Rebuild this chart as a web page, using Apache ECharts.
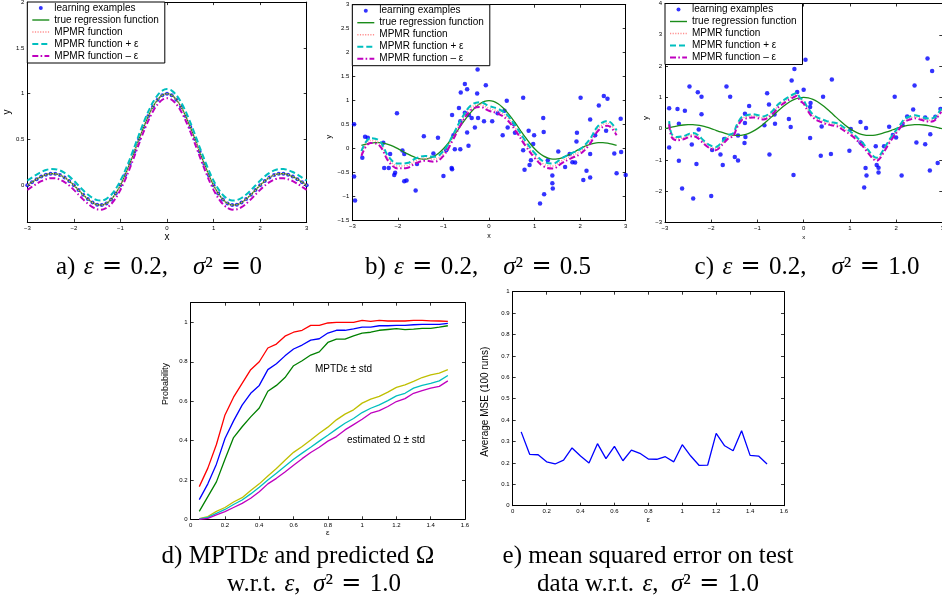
<!DOCTYPE html>
<html><head><meta charset="utf-8">
<script src="https://cdn.jsdelivr.net/npm/echarts@6/dist/echarts.min.js"></script>
<style>html,body{margin:0;padding:0;background:#fff}#c{width:942px;height:607px}</style>
</head><body><div id="c"></div>
<script>
// ---------- Panel a (sigma^2 = 0) ----------
const xA = [-3,-2.9,-2.8,-2.7,-2.6,-2.5,-2.4,-2.3,-2.2,-2.1,-2,-1.9,-1.8,-1.7,-1.6,-1.5,-1.4,-1.3,-1.2,-1.1,-1,-0.9,-0.8,-0.7,-0.6,-0.5,-0.4,-0.3,-0.2,-0.1,0,0.1,0.2,0.3,0.4,0.5,0.6,0.7,0.8,0.9,1,1.1,1.2,1.3,1.4,1.5,1.6,1.7,1.8,1.9,2,2.1,2.2,2.3,2.4,2.5,2.6,2.7,2.8,2.9,3];
const trueFn = [0,0.034,0.067,0.095,0.116,0.127,0.126,0.112,0.085,0.047,0,-0.052,-0.104,-0.151,-0.189,-0.212,-0.216,-0.198,-0.156,-0.089,0,0.109,0.234,0.368,0.505,0.637,0.757,0.858,0.935,0.984,1,0.984,0.935,0.858,0.757,0.637,0.505,0.368,0.234,0.109,0,-0.089,-0.156,-0.198,-0.216,-0.212,-0.189,-0.151,-0.104,-0.052,0,0.047,0.085,0.112,0.126,0.127,0.116,0.095,0.067,0.034,0];
const mpmrA = [0,0.034,0.067,0.095,0.116,0.127,0.126,0.112,0.085,0.047,0,-0.052,-0.104,-0.151,-0.189,-0.212,-0.216,-0.198,-0.156,-0.089,0,0.109,0.234,0.368,0.505,0.637,0.757,0.858,0.935,0.984,1,0.984,0.935,0.858,0.757,0.637,0.505,0.368,0.234,0.109,0,-0.089,-0.156,-0.198,-0.216,-0.212,-0.189,-0.151,-0.104,-0.052,0,0.047,0.085,0.112,0.126,0.127,0.116,0.095,0.067,0.034,0];
const mpmrPlusA = [0.05,0.084,0.117,0.145,0.166,0.177,0.176,0.162,0.135,0.097,0.05,-0.002,-0.054,-0.101,-0.139,-0.162,-0.166,-0.148,-0.106,-0.039,0.05,0.159,0.284,0.418,0.555,0.687,0.807,0.908,0.985,1.034,1.05,1.034,0.985,0.908,0.807,0.687,0.555,0.418,0.284,0.159,0.05,-0.039,-0.106,-0.148,-0.166,-0.162,-0.139,-0.101,-0.054,-0.002,0.05,0.097,0.135,0.162,0.176,0.177,0.166,0.145,0.117,0.084,0.05];
const mpmrMinusA = [-0.05,-0.016,0.017,0.045,0.066,0.077,0.076,0.062,0.035,-0.003,-0.05,-0.102,-0.154,-0.201,-0.239,-0.262,-0.266,-0.248,-0.206,-0.139,-0.05,0.059,0.184,0.318,0.455,0.587,0.707,0.808,0.885,0.934,0.95,0.934,0.885,0.808,0.707,0.587,0.455,0.318,0.184,0.059,-0.05,-0.139,-0.206,-0.248,-0.266,-0.262,-0.239,-0.201,-0.154,-0.102,-0.05,-0.003,0.035,0.062,0.076,0.077,0.066,0.045,0.017,-0.016,-0.05];

// ---------- Panel b (sigma^2 = 0.5) ----------
const ptsBx = [-2.96,-2.96,-2.94,-2.72,-2.66,-2.78,-2.32,-2.30,-2.20,-2.17,-2.08,-2.06,-2.02,-1.90,-1.86,-1.86,-1.81,-1.61,-1.58,-1.43,-1.12,-1.22,-1.00,-0.94,-0.82,-0.81,-0.81,-0.78,-0.75,-0.66,-0.63,-0.62,-0.63,-0.53,-0.53,-0.48,-0.48,-0.45,-0.44,-0.38,-0.31,-0.25,-0.26,-0.24,-0.11,-0.07,0.07,0.19,0.30,0.34,0.39,0.41,0.55,0.57,0.75,0.75,0.78,0.87,0.89,0.92,0.99,0.97,1.12,1.19,1.20,1.21,1.29,1.39,1.39,1.40,1.52,1.67,1.77,1.83,1.89,1.92,1.93,2.01,2.07,2.14,2.22,2.22,2.22,2.33,2.41,2.52,2.60,2.57,2.89,2.75,2.80,2.90,3.00];
const ptsBy = [0.51,-0.58,-1.08,0.25,0.23,-0.19,0.125,-0.40,-0.40,-0.11,-0.55,-0.50,0.74,-0.04,-0.11,-0.68,-0.66,-0.87,-0.32,0.26,0.23,-0.10,-0.57,-0.03,-0.40,-0.43,0.70,0.28,-0.01,0.85,-0.01,1.17,0.57,1.35,0.75,1.24,0.34,0.06,0.70,0.64,0.44,1.65,1.15,0.64,0.57,1.32,0.57,0.74,0.28,0.79,1.00,0.44,0.51,0.33,-0.03,1.06,-0.44,0.375,-0.34,-0.24,0.28,0.10,-1.14,0.64,0.35,-0.95,-0.24,-0.56,-0.72,-0.83,-0.06,-0.38,-0.11,-0.28,-0.29,0.15,0.33,1.06,-0.65,-0.46,-0.11,0.61,-0.60,0.28,0.90,1.10,1.04,0.375,0.625,-0.10,-0.51,-0.07,-0.55];
const xB = [-2.8,-2.6,-2.4,-2.2,-2.0,-1.8,-1.6,-1.4,-1.2,-1.0,-0.8,-0.6,-0.4,-0.2,0,0.2,0.4,0.6,0.8,1.0,1.2,1.4,1.6,1.8,2.0,2.2,2.4,2.6,2.8];
const mpmrB = [-0.10,0.17,0.11,-0.22,-0.36,-0.35,-0.25,-0.20,-0.22,-0.10,0.22,0.58,0.85,0.92,0.84,0.78,0.65,0.40,0.11,-0.14,-0.32,-0.36,-0.25,-0.15,-0.06,0.13,0.43,0.53,0.33];
const mpmrPlusB = [-0.05,0.22,0.16,-0.17,-0.31,-0.30,-0.20,-0.15,-0.17,-0.05,0.27,0.63,0.90,0.97,0.89,0.83,0.70,0.45,0.16,-0.09,-0.27,-0.31,-0.20,-0.10,-0.01,0.18,0.48,0.58,0.38];
const mpmrMinusB = [-0.15,0.12,0.06,-0.27,-0.41,-0.40,-0.30,-0.25,-0.27,-0.15,0.17,0.53,0.80,0.87,0.79,0.73,0.60,0.35,0.06,-0.19,-0.37,-0.41,-0.30,-0.20,-0.11,0.08,0.38,0.48,0.28];

// ---------- Panel c (sigma^2 = 1.0) ----------
const ptsCx = [-2.91,-2.91,-2.73,-2.70,-2.70,-2.63,-2.57,-2.47,-2.42,-2.39,-2.32,-2.29,-2.27,-2.21,-2.21,-1.98,-2.00,-1.80,-1.75,-1.72,-1.67,-1.59,-1.49,-1.42,-1.42,-1.27,-1.28,-1.26,-1.27,-1.18,-0.85,-0.79,-0.75,-0.74,-0.62,-0.63,-0.32,-0.28,-0.26,-0.22,-0.20,-0.14,0.00,0.04,0.14,0.15,0.14,0.37,0.39,0.42,0.59,0.61,0.99,1.02,1.23,1.23,1.26,1.31,1.34,1.36,1.35,1.56,1.58,1.62,1.62,1.74,1.85,1.93,1.97,2.00,2.12,2.14,2.24,2.37,2.40,2.44,2.63,2.63,2.68,2.73,2.74,2.78,2.85,2.90,2.96];
const ptsCy = [0.65,-0.60,0.63,0.16,-1.03,-1.91,0.57,1.35,-0.51,-2.23,-1.13,1.16,-0.03,1.02,0.46,-0.68,-2.15,-0.83,-1.16,-0.33,1.35,1.02,-0.91,-1.02,-0.22,0.18,-0.46,-0.27,0.48,0.72,0.11,1.13,0.77,-0.83,0.16,0.45,0.31,0.05,1.54,-1.48,1.91,1.17,1.24,2.20,0.69,0.82,-0.30,-0.87,0.07,1.02,-0.81,1.57,-0.71,-0.01,0.21,-0.44,-0.48,-1.88,-1.26,-1.50,0.02,-0.56,-1.16,-1.40,-1.25,-0.56,0.06,-0.20,1.02,-0.28,-1.50,0.11,0.39,0.61,1.38,-0.44,0.36,-0.50,2.24,-1.34,-0.18,1.84,0.38,-1.10,0.63];
const xC = [-2.91,-2.86,-2.75,-2.6,-2.47,-2.39,-2.28,-2.17,-2.03,-1.9,-1.77,-1.63,-1.52,-1.45,-1.34,-1.23,-1.09,-0.98,-0.87,-0.76,-0.66,-0.55,-0.44,-0.33,-0.22,-0.15,-0.08,0.0,0.06,0.17,0.28,0.39,0.5,0.6,0.75,0.86,0.97,1.07,1.18,1.29,1.4,1.51,1.58,1.65,1.76,1.87,1.97,2.08,2.19,2.3,2.41,2.52,2.62,2.73,2.84,2.98];
const mpmrC = [0.19,-0.21,-0.32,-0.29,-0.21,-0.19,-0.26,-0.42,-0.58,-0.64,-0.48,-0.26,-0.19,0.06,0.32,0.38,0.41,0.38,0.34,0.41,0.54,0.73,0.85,0.96,1.05,1.09,0.94,0.85,0.69,0.45,0.32,0.25,0.19,0.16,0.11,0.0,-0.10,-0.21,-0.37,-0.53,-0.74,-0.93,-0.98,-0.90,-0.64,-0.37,-0.16,0.06,0.27,0.34,0.38,0.34,0.30,0.27,0.32,0.59];
const mpmrPlusC = [0.24,-0.16,-0.27,-0.24,-0.16,-0.14,-0.21,-0.37,-0.53,-0.59,-0.43,-0.21,-0.14,0.11,0.37,0.43,0.46,0.43,0.39,0.46,0.59,0.78,0.90,1.01,1.10,1.14,0.99,0.90,0.74,0.50,0.37,0.30,0.24,0.21,0.16,0.05,-0.05,-0.16,-0.32,-0.48,-0.69,-0.88,-0.93,-0.85,-0.59,-0.32,-0.11,0.11,0.32,0.39,0.43,0.39,0.35,0.32,0.37,0.64];
const mpmrMinusC = [0.14,-0.26,-0.37,-0.34,-0.26,-0.24,-0.31,-0.47,-0.63,-0.69,-0.53,-0.31,-0.24,0.01,0.27,0.33,0.36,0.33,0.29,0.36,0.49,0.68,0.80,0.91,1.00,1.04,0.89,0.80,0.64,0.40,0.27,0.20,0.14,0.11,0.06,-0.05,-0.15,-0.26,-0.42,-0.58,-0.79,-0.98,-1.03,-0.95,-0.69,-0.42,-0.21,0.01,0.22,0.29,0.33,0.29,0.25,0.22,0.27,0.54];

// ---------- Panels d, e (w.r.t. epsilon) ----------
const epsX = [0.05,0.1,0.15,0.2,0.25,0.3,0.35,0.4,0.45,0.5,0.55,0.6,0.65,0.7,0.75,0.8,0.85,0.9,0.95,1.0,1.05,1.1,1.15,1.2,1.25,1.3,1.35,1.4,1.45,1.5];
const mptdPlusStd = [0.166,0.26,0.38,0.53,0.62,0.69,0.76,0.80,0.87,0.89,0.93,0.95,0.96,0.985,0.985,0.997,1.0,1.0,1.0,1.01,1.005,1.01,1.007,1.007,1.007,1.01,1.01,1.008,1.007,1.005];
const mptdMean = [0.10,0.18,0.28,0.41,0.50,0.58,0.64,0.68,0.76,0.79,0.83,0.865,0.885,0.91,0.917,0.946,0.96,0.96,0.967,0.976,0.976,0.983,0.983,0.985,0.985,0.988,0.99,0.99,0.99,0.995];
const mptdMinusStd = [0.04,0.115,0.19,0.305,0.415,0.47,0.52,0.565,0.65,0.68,0.72,0.78,0.805,0.834,0.85,0.898,0.915,0.915,0.932,0.946,0.95,0.96,0.964,0.968,0.963,0.966,0.97,0.97,0.976,0.983];
const omegaPlusStd = [0.003,0.014,0.04,0.06,0.088,0.11,0.146,0.18,0.22,0.258,0.30,0.34,0.37,0.403,0.437,0.468,0.505,0.534,0.556,0.59,0.61,0.624,0.646,0.67,0.683,0.70,0.72,0.734,0.742,0.76];
const omegaMean = [0.002,0.01,0.03,0.05,0.075,0.098,0.129,0.163,0.20,0.234,0.27,0.305,0.336,0.366,0.397,0.427,0.458,0.488,0.512,0.542,0.564,0.581,0.603,0.627,0.64,0.666,0.68,0.69,0.703,0.73];
const omegaMinusStd = [0,0.005,0.022,0.039,0.06,0.081,0.107,0.14,0.18,0.208,0.24,0.275,0.308,0.339,0.366,0.397,0.42,0.454,0.481,0.508,0.539,0.552,0.573,0.598,0.613,0.64,0.654,0.666,0.675,0.703];
const mseAvg = [0.345,0.24,0.238,0.205,0.195,0.213,0.27,0.232,0.20,0.29,0.22,0.277,0.21,0.26,0.245,0.218,0.217,0.229,0.205,0.285,0.232,0.188,0.19,0.338,0.28,0.257,0.35,0.235,0.232,0.195];

// ---------- tick labels ----------
const ticksX3 = [-3,-2,-1,0,1,2,3];
const ticksYa = [0,0.5,1,1.5,2];
const ticksYb = [-1.5,-1,-0.5,0,0.5,1,1.5,2,2.5,3];
const ticksYc = [-3,-2,-1,0,1,2,3,4];
const ticksEps = [0,0.2,0.4,0.6,0.8,1,1.2,1.4,1.6];
const ticksProb = [0,0.2,0.4,0.6,0.8,1];
const ticksMse = [0,0.1,0.2,0.3,0.4,0.5,0.6,0.7,0.8,0.9,1];

const legendNames = ['learning examples','true regression function','MPMR function','MPMR function + \u03b5','MPMR function \u2013 \u03b5'];

const SANS = '"Liberation Sans", Arial, Helvetica, sans-serif';
const SERIF = '"Liberation Serif", "Times New Roman", serif';
const C = {blue:'#0000ff', green:'#1a8c1a', pink:'#ff8f8f', cyan:'#00bfbf', mag:'#bf00bf', red:'#ff0000', yel:'#bfbf00', dgreen:'#008000'};
const fmt = v => (v < 0 ? '\u2212' + Math.abs(v) : String(v));
const zip = (xs, ys) => xs.map((x, i) => [x, ys[i]]);

const panels = [
  {grid:{left:27.3, top:2.1, width:279.4, height:219.8}, x:[-3,3], y:[-0.4,2], xt:ticksX3, yt:ticksYa, lab:6, xName:'x', xNS:10, xGap:10, yName:'y', yNS:10, yGap:12, yShift:0},
  {grid:{left:352.3, top:4.7, width:273.4, height:216}, x:[-3,3], y:[-1.5,3], xt:ticksX3, yt:ticksYb, lab:6, xName:'x', xNS:7, xGap:11.5, yName:'y', yNS:8, yGap:20, yShift:24},
  {grid:{left:665, top:3.5, width:277.3, height:219}, x:[-3,3], y:[-3,4], xt:ticksX3, yt:ticksYc, lab:6, xName:'x', xNS:6, xGap:11.5, yName:'y', yNS:8, yGap:15, yShift:5},
  {grid:{left:190.7, top:302.7, width:274.3, height:216.6}, x:[0,1.6], y:[0,1.1], xt:ticksEps, yt:ticksProb, lab:6, xName:'\u03b5', xNS:8, xGap:9.5, yName:'Probability', yNS:9, yGap:21, yShift:-27},
  {grid:{left:512.7, top:291.7, width:271.3, height:214}, x:[0,1.6], y:[0,1], xt:ticksEps, yt:ticksMse, lab:6, xName:'\u03b5', xNS:8, xGap:10, yName:'Average MSE (100 runs)', yNS:10, yGap:22.7, yShift:3}
];

const grids = [], xAxes = [], yAxes = [];
panels.forEach((p, i) => {
  grids.push(Object.assign({show:false, containLabel:false, outerBoundsMode:'none'}, p.grid));
  const tick = vals => ({show:true, inside:true, length:3, customValues:vals, lineStyle:{color:'#000', width:0.8}});
  const line = {show:true, onZero:false, lineStyle:{color:'#000', width:1}};
  const lab = {formatter:fmt, fontSize:p.lab, fontFamily:SANS, color:'#000', margin:3};
  const pad = p.yShift >= 0 ? [0, 2*p.yShift, 0, 0] : [0, 0, 0, -2*p.yShift];
  xAxes.push({gridIndex:i, type:'value', min:p.x[0], max:p.x[1], position:'bottom', axisLine:line, axisTick:tick(p.xt),
    axisLabel:Object.assign({}, lab, {customValues:p.xt}), splitLine:{show:false},
    name:p.xName, nameLocation:'middle', nameGap:p.xGap, nameTextStyle:{fontSize:p.xNS, fontFamily:SANS, color:'#000'}});
  xAxes.push({gridIndex:i, type:'value', min:p.x[0], max:p.x[1], position:'top', axisLine:line, axisTick:tick(p.xt),
    axisLabel:{show:false}, splitLine:{show:false}});
  yAxes.push({gridIndex:i, type:'value', min:p.y[0], max:p.y[1], position:'left', axisLine:line, axisTick:tick(p.yt),
    axisLabel:Object.assign({}, lab, {customValues:p.yt}), splitLine:{show:false},
    name:p.yName, nameLocation:'middle', nameGap:p.yGap, nameRotate:90, nameTextStyle:{fontSize:p.yNS, fontFamily:SANS, color:'#000', padding:pad}});
  yAxes.push({gridIndex:i, type:'value', min:p.y[0], max:p.y[1], position:'right', axisLine:line, axisTick:tick(p.yt),
    axisLabel:{show:false}, splitLine:{show:false}});
});

function lineS(name, panel, xs, ys, color, width, type, smooth) {
  return {type:'line', name, xAxisIndex:panel*2, yAxisIndex:panel*2, data:zip(xs, ys), symbol:'none', showSymbol:false,
    smooth:smooth || false, lineStyle:{color, width, type:type || 'solid'}, itemStyle:{color}, silent:true, emphasis:{disabled:true}};
}
function dots(panel, xs, ys, size) {
  return {type:'scatter', name:legendNames[0], xAxisIndex:panel*2, yAxisIndex:panel*2, data:zip(xs, ys), symbol:'circle',
    symbolSize:size, itemStyle:{color:C.blue}, silent:true, emphasis:{disabled:true}};
}
const DOT = [1, 1.6], DASH = [6, 3], DASHDOT = [6, 2.5, 1.5, 2.5];
const series = [];
// a
series.push(dots(0, xA, trueFn, 4));
series.push(lineS(legendNames[1], 0, xA, trueFn, C.green, 1.3, 'solid', 0.3));
series.push(lineS(legendNames[2], 0, xA, mpmrA, C.pink, 1.5, DOT, 0.3));
series.push(lineS(legendNames[3], 0, xA, mpmrPlusA, C.cyan, 2, DASH, 0.3));
series.push(lineS(legendNames[4], 0, xA, mpmrMinusA, C.mag, 2, DASHDOT, 0.3));
// b
series.push(dots(1, ptsBx, ptsBy, 4.5));
series.push(lineS(legendNames[1], 1, xA.slice(2, 59), trueFn.slice(2, 59), C.green, 1.3, 'solid', 0.3));
series.push(lineS(legendNames[2], 1, xB, mpmrB, C.pink, 1.5, DOT, 0.4));
series.push(lineS(legendNames[3], 1, xB, mpmrPlusB, C.cyan, 2, DASH, 0.4));
series.push(lineS(legendNames[4], 1, xB, mpmrMinusB, C.mag, 2, DASHDOT, 0.4));
// c
series.push(dots(2, ptsCx, ptsCy, 4.5));
series.push(lineS(legendNames[1], 2, xA, trueFn, C.green, 1.3, 'solid', 0.3));
series.push(lineS(legendNames[2], 2, xC, mpmrC, C.pink, 1.5, DOT, 0.3));
series.push(lineS(legendNames[3], 2, xC, mpmrPlusC, C.cyan, 2, DASH, 0.3));
series.push(lineS(legendNames[4], 2, xC, mpmrMinusC, C.mag, 2, DASHDOT, 0.3));
// d
series.push(lineS('MPTD + std', 3, epsX, mptdPlusStd, C.red, 1.3));
series.push(lineS('MPTD', 3, epsX, mptdMean, C.blue, 1.3));
series.push(lineS('MPTD - std', 3, epsX, mptdMinusStd, C.dgreen, 1.3));
series.push(lineS('Omega + std', 3, epsX, omegaPlusStd, C.yel, 1.3));
series.push(lineS('Omega', 3, epsX, omegaMean, C.cyan, 1.3));
series.push(lineS('Omega - std', 3, epsX, omegaMinusStd, C.mag, 1.3));
// e
series.push(lineS('Average MSE', 4, epsX, mseAvg, C.blue, 1.3));

// legend icons (filled shapes inside a 17x10 box)
const BOX = 'path://M0,0M17,0M17,10M0,10';
const iconDot = BOX + 'M6.5,5a2,2 0 1,0 4,0a2,2 0 1,0 -4,0z';
const iconSolid = BOX + 'M0,4.3h17v1.4h-17z';
const iconDotted = BOX + 'M0,4.3h1.2v1.4h-1.2zM2.6,4.3h1.2v1.4h-1.2zM5.2,4.3h1.2v1.4h-1.2zM7.8,4.3h1.2v1.4h-1.2zM10.4,4.3h1.2v1.4h-1.2zM13,4.3h1.2v1.4h-1.2zM15.6,4.3h1.2v1.4h-1.2z';
const iconDashed = BOX + 'M0,4h6v2h-6zM9,4h6v2h-6z';
const iconDashDot = BOX + 'M0,4h6v2h-6zM8.3,4h1.6v2h-1.6zM12.2,4h4.8v2h-4.8z';
function legendAt(left, top) {
  return {left, top, orient:'vertical', selectedMode:false, borderColor:'#000', borderWidth:1, backgroundColor:'#fff',
    padding:[0, 6, 1, 5], itemWidth:17, itemHeight:10, itemGap:0, z:20,
    textStyle:{fontSize:10, fontFamily:SANS, color:'#000', lineHeight:12},
    data:[{name:legendNames[0], icon:iconDot}, {name:legendNames[1], icon:iconSolid}, {name:legendNames[2], icon:iconDotted},
          {name:legendNames[3], icon:iconDashed}, {name:legendNames[4], icon:iconDashDot}]};
}

function caption(text, x, y) {
  return {type:'text', x, y, silent:true, style:{text, font:'25px ' + SERIF, fill:'#000', align:'center', verticalAlign:'middle',
    rich:{
      i:{font:'italic 25px ' + SERIF, fill:'#000'},
      q:{font:'24px "DejaVu Serif", serif', fill:'#000'}
    }}};
}
const T = '\u2004';            // third-em space around "="
const EQ = T + '{q|=}' + T;
const GAP = '\u2003';          // space between the two assignments
const S3 = '\u2004';
const graphics = [
  caption('a)' + S3 + '{i|\u03b5}' + EQ + '0.2,' + GAP + '{i|\u03c3}\u00b2' + EQ + '0', 159, 267),
  caption('b)' + S3 + '{i|\u03b5}' + EQ + '0.2,' + GAP + '{i|\u03c3}\u00b2' + EQ + '0.5', 478, 267),
  caption('c)' + S3 + '{i|\u03b5}' + EQ + '0.2,' + GAP + '{i|\u03c3}\u00b2' + EQ + '1.0', 807, 267),
  caption('d) MPTD{i|\u03b5} and predicted \u03a9', 298, 556),
  caption('w.r.t.' + S3 + '{i|\u03b5},\u2002{i|\u03c3}\u00b2' + EQ + '1.0', 314, 584),
  caption('e) mean squared error on test', 648, 556),
  caption('data w.r.t.' + S3 + '{i|\u03b5},\u2002{i|\u03c3}\u00b2' + EQ + '1.0', 648, 584),
  {type:'text', x:315, y:369, silent:true, style:{text:'MPTD\u03b5 \u00b1 std', font:'10px ' + SANS, fill:'#000', verticalAlign:'middle'}},
  {type:'text', x:347, y:440, silent:true, style:{text:'estimated \u03a9 \u00b1 std', font:'10px ' + SANS, fill:'#000', verticalAlign:'middle'}}
];

const chart = echarts.init(document.getElementById('c'), null, {renderer:'canvas', width:942, height:607});
chart.setOption({
  animation:false,
  backgroundColor:'#fff',
  textStyle:{fontFamily:SANS},
  grid:grids, xAxis:xAxes, yAxis:yAxes,
  legend:[legendAt(27.3, 2), legendAt(352.3, 4.7), legendAt(665, 3.5)],
  series, graphic:graphics
});
</script></body></html>
